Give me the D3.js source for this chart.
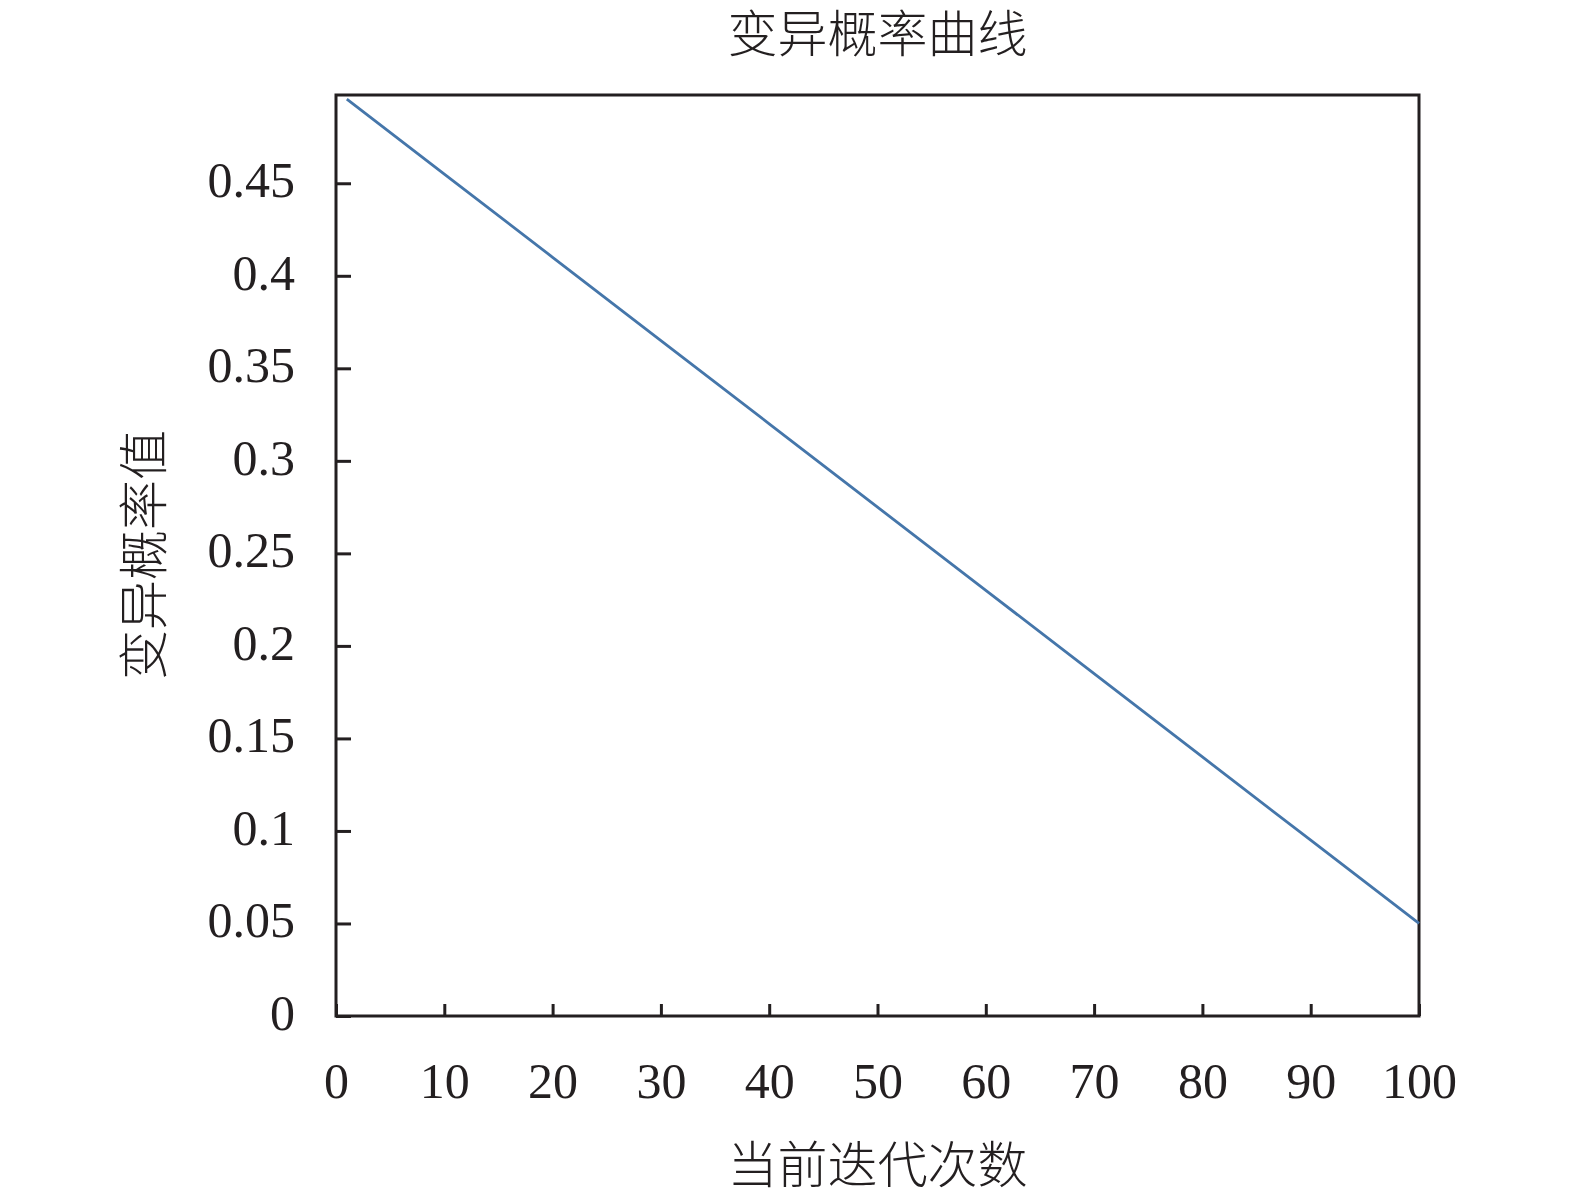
<!DOCTYPE html>
<meta charset="utf-8">
<script src="https://d3js.org/d3.v7.min.js"></script>
<style>
  body { margin: 0; background: #fff; }
  .tick text { font-family: "Liberation Serif", "Times New Roman", serif; font-size: 50px; fill: #231f20; }
  .cjk { font-family: "Noto Sans CJK SC", sans-serif; font-weight: 300; font-size: 50px; fill: #231f20; }
</style>
<div id="chart"></div>
<script>
var iterations = [1, 10, 20, 30, 40, 50, 60, 70, 80, 90, 100];
var probability = [0.4955, 0.455, 0.41, 0.365, 0.32, 0.275, 0.23, 0.185, 0.14, 0.095, 0.05];
var xTicks = [0, 10, 20, 30, 40, 50, 60, 70, 80, 90, 100];
var yTicks = [0, 0.05, 0.1, 0.15, 0.2, 0.25, 0.3, 0.35, 0.4, 0.45];

var W = 1575, H = 1198;
var plotLeft = 336, plotRight = 1419, plotTop = 95, plotBottom = 1016;

var svg = d3.select("#chart").append("svg")
    .attr("width", W)
    .attr("height", H);

var x = d3.scaleLinear().domain([0, 100]).range([plotLeft, plotRight]);
var y = d3.scaleLinear().domain([0, 0.4977]).range([plotBottom, plotTop]);

// frame
svg.append("rect")
    .attr("x", plotLeft).attr("y", plotTop)
    .attr("width", plotRight - plotLeft).attr("height", plotBottom - plotTop)
    .attr("fill", "none")
    .attr("stroke", "#231f20")
    .attr("stroke-width", 3);

// x axis, ticks pointing inwards
var gx = svg.append("g")
    .attr("transform", "translate(0," + plotBottom + ")")
    .call(d3.axisBottom(x).tickValues(xTicks).tickSizeInner(-12).tickSizeOuter(0)
        .tickFormat(d3.format("d")));
gx.select(".domain").remove();
gx.selectAll(".tick line").attr("stroke", "#231f20").attr("stroke-width", 3);
gx.selectAll(".tick text").attr("dy", "0.71em").attr("y", 46);

// y axis
var gy = svg.append("g")
    .attr("transform", "translate(" + plotLeft + ",0)")
    .call(d3.axisLeft(y).tickValues(yTicks).tickSizeInner(-15).tickSizeOuter(0)
        .tickFormat(function(d) { return d === 0 ? "0" : String(+d.toFixed(2)); }));
gy.select(".domain").remove();
gy.selectAll(".tick line").attr("stroke", "#231f20").attr("stroke-width", 3);
gy.selectAll(".tick text").attr("x", -41).attr("dy", "0.27em");

// line
var line = d3.line()
    .x(function(d, i) { return x(iterations[i]); })
    .y(function(d) { return y(d); });

svg.append("path")
    .datum(probability)
    .attr("d", line)
    .attr("fill", "none")
    .attr("stroke", "#4576aa")
    .attr("stroke-width", 2.8);

// title and axis labels
svg.append("text")
    .attr("class", "cjk")
    .attr("x", (plotLeft + plotRight) / 2)
    .attr("y", 52)
    .attr("text-anchor", "middle")
    .text("变异概率曲线");

svg.append("text")
    .attr("class", "cjk")
    .attr("x", (plotLeft + plotRight) / 2)
    .attr("y", 1183)
    .attr("text-anchor", "middle")
    .text("当前迭代次数");

svg.append("text")
    .attr("class", "cjk")
    .attr("transform", "translate(162," + 555 + ") rotate(-90)")
    .attr("text-anchor", "middle")
    .text("变异概率值");
</script>
